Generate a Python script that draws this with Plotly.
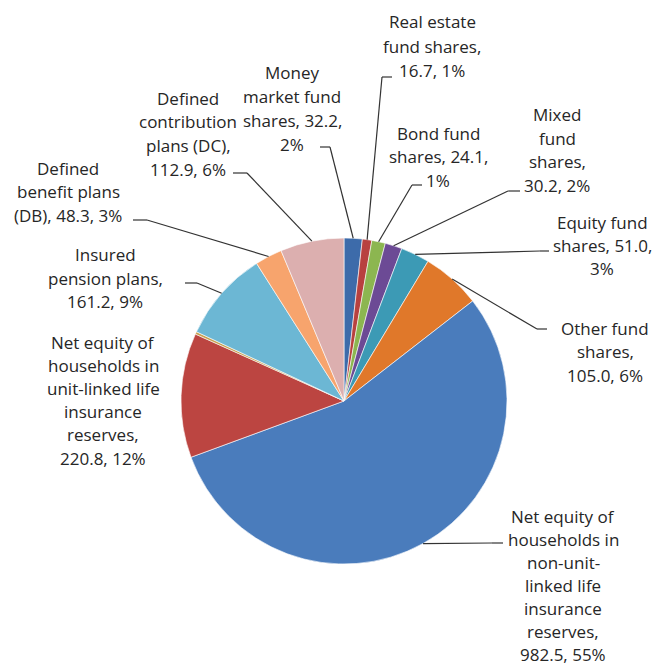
import plotly.graph_objects as go
import math

# Household financial assets, pension and fund holdings (value, share of total)
categories = [
    "Money market fund shares",
    "Real estate fund shares",
    "Bond fund shares",
    "Mixed fund shares",
    "Equity fund shares",
    "Other fund shares",
    "Net equity of households in non-unit-linked life insurance reserves",
    "Net equity of households in unit-linked life insurance reserves",
    "Other pension entitlements",
    "Insured pension plans",
    "Defined benefit plans (DB)",
    "Defined contribution plans (DC)",
]
values = [32.2, 16.7, 24.1, 30.2, 51.0, 105.0, 982.5, 220.8, 4.5, 161.2, 48.3, 112.9]

# Wrapped label text; {v} = value, {p} = percent of total
label_templates = [
    "Money|market fund|shares, {v},|{p}",
    "Real estate|fund shares,|{v}, {p}",
    "Bond fund|shares, {v},|{p}",
    "Mixed|fund|shares,|{v}, {p}",
    "Equity fund|shares, {v},|{p}",
    "Other fund|shares,|{v}, {p}",
    "Net equity of|households in|non-unit-|linked life|insurance|reserves,|{v}, {p}",
    "Net equity of|households in|unit-linked life|insurance|reserves,|{v}, {p}",
    None,
    "Insured|pension plans,|{v}, {p}",
    "Defined|benefit plans|(DB), {v}, {p}",
    "Defined|contribution|plans (DC),|{v}, {p}",
]

colors = ["#3D6BAA", "#B8413F", "#8CB650", "#6C4A95", "#3C9AB5", "#E0782A",
          "#4A7CBC", "#BC4541", "#C8A050", "#6CB7D4", "#F7A46D", "#DCAFAF"]

# Layout (pixels): label centre x, first-line y, line height, leader elbow, tick end
W, H = 658, 668
CX, CY, R = 344, 401, 163
label_pos = [
    (292, 73, 23.8, (330, 147), (320, 147)),
    (432, 22, 24.3, (382, 77), (392, 77)),
    (438, 133, 23.8, (412, 185), (422, 185)),
    (557, 115, 23.5, (508, 191), (520, 191)),
    (602, 222, 23.5, (540, 251), (549, 251)),
    (605, 328, 23.5, (537, 329), (547, 329)),
    (563, 516, 23.0, (492, 543), (503, 543)),
    (103, 342, 23.2, None, None),
    None,
    (105, 255, 23.2, (197, 283), (185, 283)),
    (68, 168, 23.5, (147, 220), (133, 220)),
    (188, 98, 23.7, (247, 173), (233, 173)),
]


def px(x, y):
    return x / W, 1 - y / H


total = sum(values)
fig = go.Figure()
fig.add_trace(go.Pie(
    labels=categories,
    values=values,
    sort=False,
    direction="clockwise",
    rotation=0,
    textinfo="none",
    marker=dict(colors=colors, line=dict(color="white", width=0.6)),
    domain=dict(x=[(CX - R) / W, (CX + R) / W],
                y=[1 - (CY + R) / H, 1 - (CY - R) / H]),
    showlegend=False,
    hovertemplate="%{label}<br>%{value:.1f} (%{percent})<extra></extra>",
))

annotations = []
shapes = []
cum = 0.0
for v, tmpl, pos in zip(values, label_templates, label_pos):
    mid = (cum + v / 2) / total * 2 * math.pi
    cum += v
    if tmpl is None or pos is None:
        continue
    text = tmpl.format(v=f"{v:.1f}", p=f"{round(v / total * 100):.0f}%")
    lx, ly, lh, elbow, tick = pos
    for k, line in enumerate(text.split("|")):
        x, y = px(lx, ly + k * lh)
        annotations.append(dict(
            x=x, y=y, xref="paper", yref="paper", text=line, showarrow=False,
            xanchor="center", yanchor="middle",
            font=dict(family="Open Sans", size=17, color="#262626"),
        ))
    if elbow is not None:
        ex, ey = CX + R * math.sin(mid), CY - R * math.cos(mid)
        x0, y0 = px(ex, ey)
        x1, y1 = px(*elbow)
        x2, y2 = px(*tick)
        for a, b, c, d in ((x0, y0, x1, y1), (x1, y1, x2, y2)):
            shapes.append(dict(type="line", xref="paper", yref="paper",
                               x0=a, y0=b, x1=c, y1=d,
                               line=dict(color="#333333", width=1.2)))

fig.update_layout(
    width=W, height=H,
    margin=dict(l=0, r=0, t=0, b=0),
    paper_bgcolor="white",
    plot_bgcolor="white",
    annotations=annotations,
    shapes=shapes,
)

fig.write_html("out.html")
